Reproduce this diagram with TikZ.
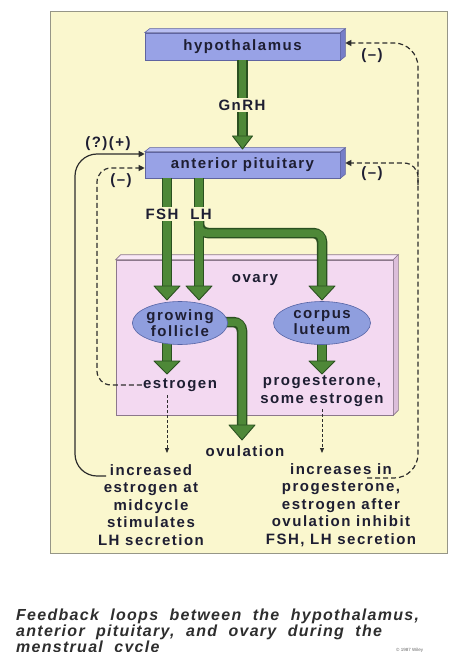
\documentclass[tikz,border=0pt]{standalone}
\usepackage{fontspec}
\setmainfont{Liberation Sans}
\newfontfamily\labf[LetterSpace=10]{Liberation Sans}
\newfontfamily\capf[LetterSpace=8,WordSpace=2]{Liberation Sans}
\usetikzlibrary{arrows.meta,shapes.geometric,calc}
\definecolor{panel}{RGB}{250,247,206}
\definecolor{panelline}{RGB}{150,150,135}
\definecolor{boxfront}{RGB}{152,162,230}
\definecolor{boxtop}{RGB}{184,190,242}
\definecolor{boxside}{RGB}{118,126,200}
\definecolor{boxline}{RGB}{95,100,160}
\definecolor{ggreen}{RGB}{78,136,56}
\definecolor{gdark}{RGB}{42,80,32}
\definecolor{ovfront}{RGB}{243,217,241}
\definecolor{ovtop}{RGB}{249,232,247}
\definecolor{ovside}{RGB}{220,190,218}
\definecolor{ovline}{RGB}{140,120,140}
\definecolor{ellfill}{RGB}{143,158,222}
\definecolor{ellline}{RGB}{85,100,165}
\definecolor{txt}{RGB}{30,30,50}
\definecolor{fbcol}{RGB}{45,45,45}
\begin{document}
\begin{tikzpicture}[x=1pt,y=-1pt,
  lab/.style={font=\labf\bfseries\fontsize{15}{17.5}\selectfont, text=txt, inner sep=1pt},
  box/.style={lab, draw=boxline, fill=boxfront, minimum width=195pt, minimum height=27pt, inner sep=0pt, line width=0.6pt},
  ell/.style={lab, ellipse, draw=ellline, fill=ellfill, line width=0.6pt, minimum height=43pt, inner sep=0pt, align=center, font=\labf\bfseries\fontsize{15}{16}\selectfont},
  gout/.style={draw=gdark, line width=10.5pt, rounded corners=9pt},
  gin/.style={draw=ggreen, line width=7.5pt, rounded corners=7.5pt},
  ghead/.style={fill=ggreen, draw=gdark, line width=0.9pt, line join=round},
  fbs/.style={draw=fbcol, line width=1.2pt, rounded corners=22pt, -{Triangle[length=6pt,width=6pt]}},
  fbd/.style={draw=fbcol, line width=1.2pt, dash pattern=on 5pt off 3pt, -{Triangle[length=6pt,width=6pt]}},
  thind/.style={draw=fbcol, line width=0.8pt, dash pattern=on 3pt off 2pt, -{Triangle[length=5pt,width=4pt]}},
  bg/.style={fill=panel, inner sep=1.5pt}
]
\useasboundingbox (0,0) rectangle (451,652);
\fill[white] (0,0) rectangle (451,652);
% panel
\filldraw[fill=panel, draw=panelline, line width=0.8pt] (50,11) rectangle (447,553);

% ovary box
\node[draw=ovline, fill=ovfront, minimum width=277pt, minimum height=155pt, inner sep=0pt, line width=0.6pt] (ov) at (254.5,337.5) {};
\filldraw[fill=ovtop, draw=ovline, line width=0.6pt] (ov.north west) -- ++(5,-5) -- ($(ov.north east)+(5,-5)$) -- (ov.north east) -- cycle;
\filldraw[fill=ovside, draw=ovline, line width=0.6pt] (ov.north east) -- ++(5,-5) -- ($(ov.south east)+(5,-5)$) -- (ov.south east) -- cycle;
\node[lab] (ovl) at (255,280) {ovary};

% hypothalamus and pituitary boxes
\node[box] (hyp) at (242.5,46.5) {hypothalamus};
\filldraw[fill=boxtop, draw=boxline, line width=0.6pt] (hyp.north west) -- ++(5,-4) -- ($(hyp.north east)+(5,-4)$) -- (hyp.north east) -- cycle;
\filldraw[fill=boxside, draw=boxline, line width=0.6pt] (hyp.north east) -- ++(5,-4) -- ($(hyp.south east)+(5,-4)$) -- (hyp.south east) -- cycle;

\node[box, minimum height=26pt] (pit) at (242.5,165) {anterior pituitary};
\filldraw[fill=boxtop, draw=boxline, line width=0.6pt] (pit.north west) -- ++(5,-4) -- ($(pit.north east)+(5,-4)$) -- (pit.north east) -- cycle;
\filldraw[fill=boxside, draw=boxline, line width=0.6pt] (pit.north east) -- ++(5,-4) -- ($(pit.south east)+(5,-4)$) -- (pit.south east) -- cycle;

% coordinates for green arrows
\coordinate (gnrhb) at (242.5,137);
\coordinate (fsht) at (167,178);  \coordinate (fshb) at (167,288);
\coordinate (lht) at (199,178);   \coordinate (lhb) at (199,288);
\coordinate (brs) at (199,215);   \coordinate (brc1) at (199,233); \coordinate (brc2) at (322,233); \coordinate (brb) at (322,288);
\coordinate (ft) at (167,340);    \coordinate (fb) at (167,362);
\coordinate (ct) at (322,340);    \coordinate (cb) at (322,362);
\coordinate (ovs) at (222,322);   \coordinate (ovc) at (242,322); \coordinate (ovb) at (242,427);

% green shafts: outlines
\draw[gout] (hyp.south) -- (gnrhb);
\draw[gout] (fsht) -- (fshb);
\draw[gout] (lht) -- (lhb);
\draw[gout] (brs) -- (brc1) -- (brc2) -- (brb);
\draw[gout] (ft) -- (fb);
\draw[gout] (ct) -- (cb);
\draw[gout] (ovs) -- (ovc) -- (ovb);
% green shafts: fill
\draw[gin] (hyp.south) -- (gnrhb);
\draw[gin] (fsht) -- (fshb);
\draw[gin] (lht) -- (lhb);
\draw[gin] (brs) -- (brc1) -- (brc2) -- (brb);
\draw[gin] (ft) -- (fb);
\draw[gin] (ct) -- (cb);
\draw[gin] (ovs) -- (ovc) -- (ovb);
% heads
\filldraw[ghead] (242.5,149) -- ++(-10,-13) -- ++(20,0) -- cycle;
\filldraw[ghead] (167,300) -- ++(-13,-14) -- ++(26,0) -- cycle;
\filldraw[ghead] (199,300) -- ++(-13,-14) -- ++(26,0) -- cycle;
\filldraw[ghead] (322,300) -- ++(-13,-14) -- ++(26,0) -- cycle;
\filldraw[ghead] (167,374) -- ++(-13,-13) -- ++(26,0) -- cycle;
\filldraw[ghead] (322,374) -- ++(-13,-13) -- ++(26,0) -- cycle;
\filldraw[ghead] (242,440) -- ++(-13,-15) -- ++(26,0) -- cycle;

% labels on shafts
\node[lab, bg] (gnrh) at (242,105) {GnRH};
\node[lab, bg] (fsh) at (162,214) {FSH};
\node[lab, bg] (lh) at (201,214) {LH};

% ellipses
\node[ell, minimum width=93pt] (fol) at (180,323) {growing\\follicle};
\node[ell, minimum width=97pt] (cl) at (322,323) {corpus\\luteum};

% products
\node[lab] (estr) at (180,385) {estrogen};
\node[lab, align=center] (prog) at (322,391) {progesterone,\\some estrogen};
\node[lab] (ovu) at (245,451) {ovulation};

% bottom texts
\node[lab, align=center] (incL) at (151,505) {increased\\estrogen at\\midcycle\\stimulates\\LH secretion};
\node[lab, align=center] (incR) at (341,505) {increases in\\progesterone,\\estrogen after\\ovulation inhibit\\FSH, LH secretion};

% thin dashed arrows
\coordinate (e1) at (167,395); \coordinate (e2) at (167,453);
\coordinate (p1) at (322,409); \coordinate (p2) at (322,453);
\draw[thind] (e1) -- (e2);
\draw[thind] (p1) -- (p2);

% feedback loops
\coordinate (sL) at (106,476); \coordinate (cL1) at (75,476); \coordinate (cL2) at (75,154);
\draw[fbs] (sL) -- (cL1) -- (cL2) -- ($(pit.west)+(0,-11)$);
\coordinate (dL1) at (97,385); \coordinate (dL2) at (97,168);
\draw[fbd, rounded corners=14pt] (estr.west) -- (dL1) -- (dL2) -- ($(pit.west)+(0,3)$);
\coordinate (sR) at (367,478); \coordinate (cR1) at (418,478); \coordinate (cR2) at (418,43);
\draw[fbd, rounded corners=24pt] (sR) -- (cR1) -- (cR2) -- ($(hyp.east)+(5,-3.5)$);
\coordinate (bR1) at (418,185); \coordinate (bR2) at (418,163);
\draw[fbd, rounded corners=14pt] (bR1) -- (bR2) -- ($(pit.east)+(5,-2)$);

% signs
\node[lab] (s1) at (108,144) {(?)(+)};
\node[lab] (s2) at (121,181) {(–)};
\node[lab] (s3) at (372,56) {(–)};
\node[lab] (s4) at (372,174) {(–)};

% caption
\node[anchor=north west, align=left, inner sep=0pt, text=black!82, font=\capf\bfseries\itshape\fontsize{16}{16}\selectfont] (cap) at (16,609) {Feedback loops between the hypothalamus,\\anterior pituitary, and ovary during the\\menstrual cycle};
\node[anchor=west, inner sep=0pt, text=black!60, font=\fontsize{4.5}{5}\selectfont] (copy) at (396,650) {\copyright\ 1987 Wiley};
\end{tikzpicture}
\end{document}
